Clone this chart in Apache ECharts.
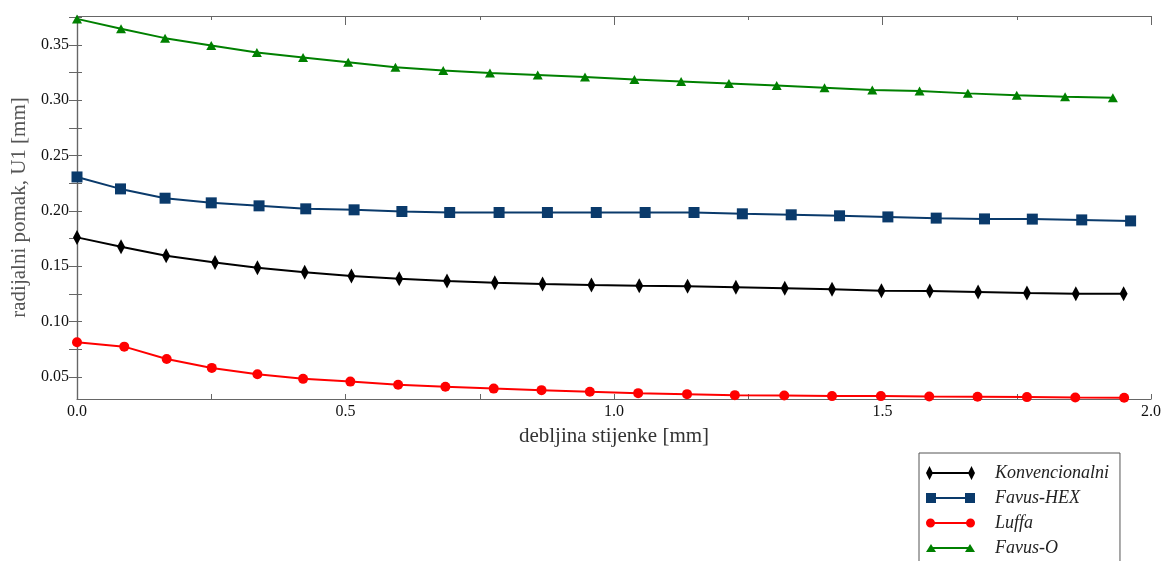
<!DOCTYPE html>
<html>
<head>
<meta charset="utf-8">
<script src="https://cdn.jsdelivr.net/npm/echarts@6/dist/echarts.min.js"></script>
<style>
  html, body { margin: 0; padding: 0; background: #fff; }
  #chart { width: 1164px; height: 561px; }
</style>
</head>
<body>
<div id="chart"></div>
<script>
// debljina stijenke [mm] per serija
const xKonv = [0, 0.082, 0.166, 0.257, 0.336, 0.424, 0.511, 0.600, 0.689, 0.778, 0.867, 0.958,
  1.047, 1.137, 1.227, 1.318, 1.406, 1.498, 1.588, 1.678, 1.769, 1.860, 1.949]
const yKonv = [0.1760, 0.1675, 0.1594, 0.1534, 0.1486, 0.1444, 0.1411, 0.1386, 0.1366, 0.1350, 0.1339, 0.1330,
  0.1323, 0.1318, 0.1309, 0.1300, 0.1291, 0.1278, 0.1275, 0.1266, 0.1257, 0.1251, 0.1251]

const xHex = [0, 0.081, 0.164, 0.250, 0.339, 0.426, 0.516, 0.605, 0.694, 0.786, 0.876, 0.967,
  1.058, 1.149, 1.239, 1.330, 1.420, 1.510, 1.600, 1.690, 1.779, 1.871, 1.962]
const yHex = [0.2306, 0.2198, 0.2114, 0.2072, 0.2045, 0.2018, 0.2009, 0.1994, 0.1985, 0.1985, 0.1985, 0.1985,
  0.1985, 0.1985, 0.1973, 0.1964, 0.1955, 0.1945, 0.1934, 0.1927, 0.1925, 0.1918, 0.1909]

const xLuffa = [0, 0.088, 0.167, 0.251, 0.336, 0.421, 0.509, 0.598, 0.686, 0.776, 0.865, 0.955,
  1.045, 1.136, 1.225, 1.317, 1.406, 1.497, 1.587, 1.677, 1.769, 1.859, 1.950]
const yLuffa = [0.0813, 0.0773, 0.0662, 0.0581, 0.0524, 0.0482, 0.0457, 0.0428, 0.0410, 0.0394, 0.0380, 0.0365,
  0.0353, 0.0344, 0.0335, 0.0331, 0.0326, 0.0326, 0.0322, 0.0320, 0.0317, 0.0313, 0.0311]

const xFavusO = [0, 0.082, 0.164, 0.250, 0.335, 0.421, 0.505, 0.593, 0.682, 0.769, 0.858, 0.946,
  1.038, 1.125, 1.214, 1.303, 1.392, 1.481, 1.569, 1.659, 1.750, 1.840, 1.929]
const yFavusO = [0.3734, 0.3644, 0.3560, 0.3494, 0.3431, 0.3385, 0.3343, 0.3298, 0.3268, 0.3244, 0.3226, 0.3208,
  0.3187, 0.3169, 0.3151, 0.3133, 0.3112, 0.3091, 0.3082, 0.3061, 0.3043, 0.3031, 0.3022]

const yTicks = [0.05, 0.10, 0.15, 0.20, 0.25, 0.30, 0.35]
const yMinorTicks = [0.05, 0.075, 0.10, 0.125, 0.15, 0.175, 0.20, 0.225, 0.25, 0.275, 0.30, 0.325, 0.35, 0.375]

const pairs = (xs, ys) => xs.map((x, i) => [x, ys[i]])

// legend ikone: linija s markerima na oba kraja (okvir 49x16)
const box = 'M0,0 L0.01,0 L0,0.01 Z M49,16 L48.99,16 L49,15.99 Z '
const iconKonv = 'path://' + box + 'M0,8 L3.5,1 L7,8 L3.5,15 Z M3,7 L46,7 L46,9 L3,9 Z M42,8 L45.5,1 L49,8 L45.5,15 Z'
const iconHex = 'path://' + box + 'M0,3 L10,3 L10,13 L0,13 Z M5,7 L44,7 L44,9 L5,9 Z M39,3 L49,3 L49,13 L39,13 Z'
const iconLuffa = 'path://' + box + 'M0,8 A4.5,4.5 0 1 1 9,8 A4.5,4.5 0 1 1 0,8 Z M4,7 L45,7 L45,9 L4,9 Z M40,8 A4.5,4.5 0 1 1 49,8 A4.5,4.5 0 1 1 40,8 Z'
const iconFavusO = 'path://' + box + 'M0,12 L5,4 L10,12 Z M5,7 L44,7 L44,9 L5,9 Z M39,12 L44,4 L49,12 Z'

const serif = '"Liberation Serif", "DejaVu Serif", serif'
const axisColor = '#666'

const chart = echarts.init(document.getElementById('chart'))
const option = {
  animation: false,
  backgroundColor: '#fff',
  grid: { left: 77, right: 11, top: 16, bottom: 162 },
  legend: {
    orient: 'vertical',
    left: 919,
    top: 453,
    height: 100,
    padding: [11, 11, 14, 7],
    itemWidth: 49,
    itemHeight: 16,
    itemGap: 7,
    borderColor: '#555',
    borderWidth: 1,
    backgroundColor: '#fff',
    textStyle: { fontFamily: serif, fontStyle: 'italic', fontSize: 18, color: '#222', padding: [0, 0, 0, 15], width: 125 },
    data: [
      { name: 'Konvencionalni', icon: iconKonv },
      { name: 'Favus-HEX', icon: iconHex },
      { name: 'Luffa', icon: iconLuffa },
      { name: 'Favus-O', icon: iconFavusO },
    ],
  },
  xAxis: [
    {
      type: 'value',
      min: 0,
      max: 2,
      interval: 0.5,
      position: 'bottom',
      name: 'debljina stijenke [mm]',
      nameLocation: 'middle',
      nameGap: 27,
      nameTextStyle: { fontFamily: serif, fontSize: 21, color: '#333' },
      axisLine: { show: true, lineStyle: { color: axisColor, width: 1.2 } },
      axisTick: { show: true, inside: true, length: 5, lineStyle: { color: axisColor } },
      minorTick: { show: true, splitNumber: 2, length: 5, lineStyle: { color: axisColor } },
      axisLabel: { fontFamily: serif, fontSize: 16, color: '#111', margin: 5, formatter: (v) => v.toFixed(1) },
      splitLine: { show: false },
    },
    {
      type: 'value',
      min: 0,
      max: 2,
      interval: 0.5,
      position: 'top',
      axisLine: { show: true, lineStyle: { color: axisColor, width: 1.2 } },
      axisTick: { show: true, inside: true, length: 9, lineStyle: { color: axisColor } },
      minorTick: { show: true, splitNumber: 2, length: 4, lineStyle: { color: axisColor } },
      axisLabel: { show: false },
      splitLine: { show: false },
    },
  ],
  yAxis: [
    {
      type: 'value',
      min: 0.03,
      max: 0.376,
      position: 'left',
      name: 'radijalni pomak, U1 [mm]',
      nameLocation: 'middle',
      nameGap: 45,
      nameTextStyle: { fontFamily: serif, fontSize: 21, color: '#555' },
      axisLine: { show: true, lineStyle: { color: axisColor, width: 1.2 } },
      axisTick: { show: true, inside: true, length: 5, customValues: yMinorTicks, lineStyle: { color: axisColor } },
      axisLabel: { fontFamily: serif, fontSize: 16, color: '#111', margin: 8, customValues: yTicks, formatter: (v) => v.toFixed(2) },
      splitLine: { show: false },
    },
    {
      type: 'value',
      min: 0.03,
      max: 0.376,
      position: 'right',
      axisLine: { show: true, lineStyle: { color: axisColor, width: 1.2 } },
      axisTick: { show: true, inside: true, length: 8, customValues: yMinorTicks, lineStyle: { color: axisColor } },
      axisLabel: { show: false },
      splitLine: { show: false },
    },
  ],
  series: [
    {
      name: 'Konvencionalni',
      type: 'line',
      symbol: 'diamond',
      symbolSize: [8, 15],
      lineStyle: { color: '#000', width: 2 },
      itemStyle: { color: '#000' },
      data: pairs(xKonv, yKonv),
    },
    {
      name: 'Favus-HEX',
      type: 'line',
      symbol: 'rect',
      symbolSize: 11,
      lineStyle: { color: '#0a3a6b', width: 2 },
      itemStyle: { color: '#0a3a6b' },
      data: pairs(xHex, yHex),
    },
    {
      name: 'Luffa',
      type: 'line',
      symbol: 'circle',
      symbolSize: 10,
      lineStyle: { color: '#ff0000', width: 2 },
      itemStyle: { color: '#ff0000' },
      data: pairs(xLuffa, yLuffa),
    },
    {
      name: 'Favus-O',
      type: 'line',
      symbol: 'triangle',
      symbolSize: [10, 9],
      lineStyle: { color: '#008000', width: 2 },
      itemStyle: { color: '#008000' },
      data: pairs(xFavusO, yFavusO),
    },
  ],
}
chart.setOption(option)
</script>
</body>
</html>
